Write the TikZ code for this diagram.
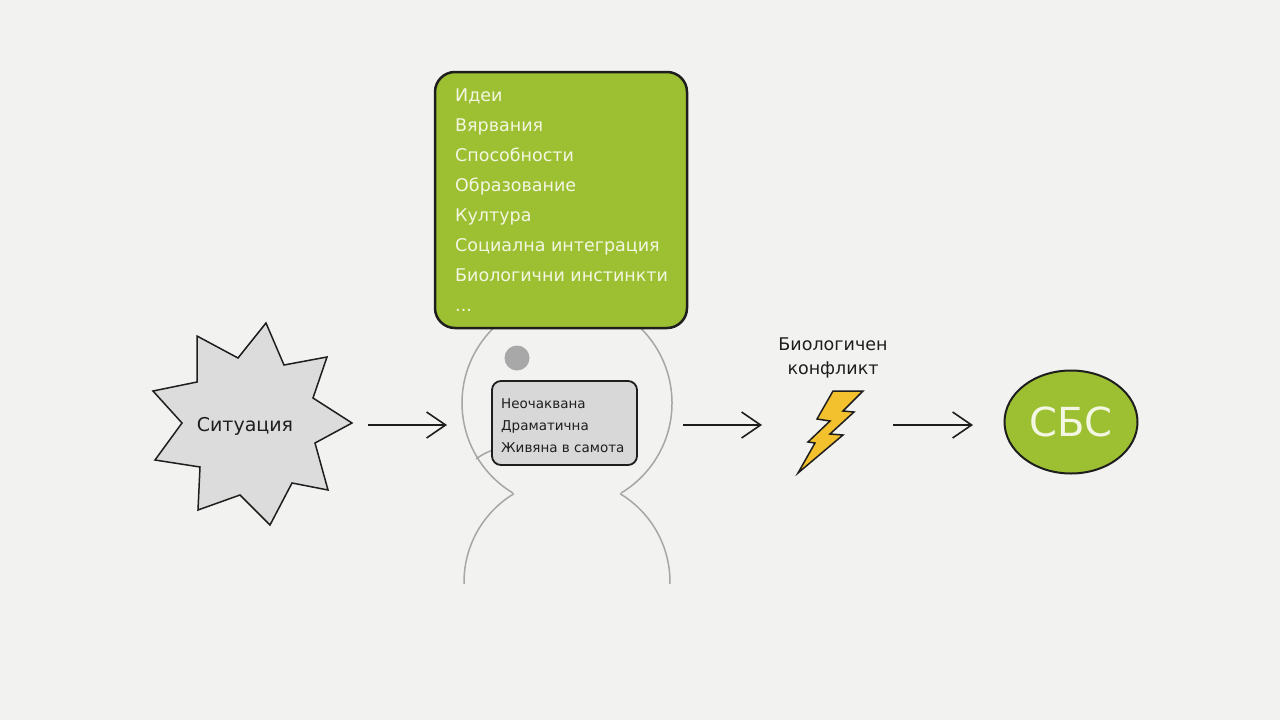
\documentclass[tikz,border=0pt]{standalone}
\usepackage{fontspec}
\setmainfont{DejaVu Sans}
\usetikzlibrary{arrows.meta,shapes.geometric}
\definecolor{paper}{HTML}{F2F2F0}
\definecolor{leaf}{HTML}{9DC032}
\definecolor{cream}{HTML}{F3F6E2}
\definecolor{figgray}{HTML}{A6A6A6}
\definecolor{dotgray}{HTML}{A8A8A8}
\definecolor{boxgray}{HTML}{D8D8D8}
\definecolor{stargray}{HTML}{DCDCDC}
\definecolor{bolty}{HTML}{F4C12E}
\definecolor{ink}{HTML}{1E1E1E}
\begin{document}
\begin{tikzpicture}[x=1pt,y=-1pt,
  arr/.style={draw=ink, line width=1.6pt, -{Straight Barb[length=19pt,width=26pt,line width=1.6pt]}},
  figline/.style={draw=figgray, line width=1.5pt},
  greenitem/.style={anchor=base west, inner sep=0pt, text=cream, font=\fontsize{17.5}{20}\selectfont},
  grayitem/.style={anchor=base west, inner sep=0pt, text=ink, font=\fontsize{13.5}{16}\selectfont}]
\useasboundingbox[fill=paper] (0,0) rectangle (1280,720);

% star
\draw[ink, line width=1.5pt, fill=stargray] (266,323) -- (284,365) -- (327,357) -- (313,398) -- (352,423) -- (315,443) -- (328,490) -- (292,483) -- (270,525) -- (240,495) -- (198,510) -- (200,467) -- (155,460) -- (182,423) -- (153,391) -- (197,382) -- (197,336) -- (238,358) -- cycle;
\node[text=ink, font=\fontsize{19}{22}\selectfont] (sit) at (245,426) {Ситуация};

% figure
\draw[figline] ([shift={(121:105)}]567,403) arc[start angle=121, end angle=419, radius=105];
\draw[figline] ([shift={(179:103)}]567,582) arc[start angle=179, end angle=239, radius=103];
\draw[figline] ([shift={(301:103)}]567,582) arc[start angle=301, end angle=361, radius=103];
\fill[dotgray] (517,358) circle[radius=12.5];
\draw[figline] (476,459) to[bend left=8] (493,450);

% green box
\node[draw=ink, line width=2.5pt, fill=leaf, rounded corners=20pt, minimum width=252pt, minimum height=256pt, inner sep=0pt] (ideas) at (561,200) {};
\node[greenitem] (g1) at (455,101) {Идеи};
\node[greenitem] (g2) at (455,131) {Вярвания};
\node[greenitem] (g3) at (455,161) {Способности};
\node[greenitem] (g4) at (455,191) {Образование};
\node[greenitem] (g5) at (455,221) {Култура};
\node[greenitem] (g6) at (455,251) {Социална интеграция};
\node[greenitem] (g7) at (455,281) {Биологични инстинкти};
\node[greenitem] (g8) at (455,311) {...};

% gray box
\node[draw=ink, line width=1.8pt, fill=boxgray, rounded corners=9pt, minimum width=145pt, minimum height=84pt, inner sep=0pt] (quals) at (564.5,423) {};
\node[grayitem] (q1) at (501,408) {Неочаквана};
\node[grayitem] (q2) at (501,430) {Драматична};
\node[grayitem] (q3) at (501,452) {Живяна в самота};

% conflict
\node[text=ink, align=center, font=\fontsize{17.5}{24}\selectfont] (bio) at (833,358) {Биологичен\\конфликт};
\draw[ink, line width=1.5pt, fill=bolty, line join=miter] (833,391) -- (863,391) -- (843,411) -- (854,412) -- (830,434) -- (843,435) -- (798,473) -- (815,443) -- (808,442) -- (830,421) -- (817,419) -- cycle;

% SBS
\node[ellipse, draw=ink, line width=2pt, fill=leaf, minimum width=133pt, minimum height=103pt, inner sep=0pt, text=cream, font=\fontsize{40}{44}\selectfont] (sbs) at (1071,422) {СБС};

% arrows
\coordinate (a1s) at (368,425); \coordinate (a1e) at (447,425);
\coordinate (a2s) at (683,425); \coordinate (a2e) at (762,425);
\coordinate (a3s) at (893,425); \coordinate (a3e) at (973,425);
\draw[arr] (a1s) -- (a1e);
\draw[arr] (a2s) -- (a2e);
\draw[arr] (a3s) -- (a3e);
\end{tikzpicture}
\end{document}
